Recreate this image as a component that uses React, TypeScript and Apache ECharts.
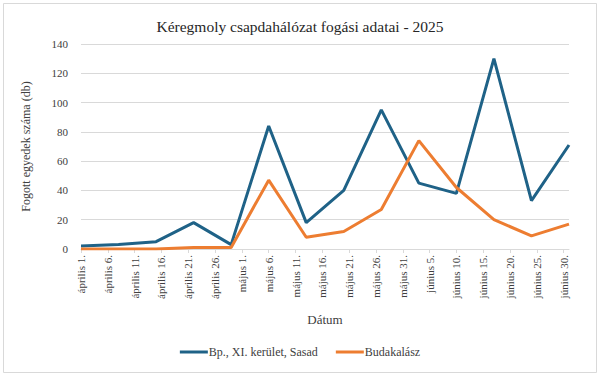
import React, { useEffect, useRef } from "react";
import * as echarts from "echarts";

const dates = [
  "2025-04-01", "2025-04-08", "2025-04-15", "2025-04-22", "2025-04-29",
  "2025-05-06", "2025-05-13", "2025-05-20", "2025-05-27", "2025-06-03",
  "2025-06-10", "2025-06-17", "2025-06-24", "2025-07-01",
];
const sasad = [2, 3, 5, 18, 3, 84, 18, 40, 95, 45, 38, 130, 33, 71];
const budakalasz = [0, 0, 0, 1, 1, 47, 8, 12, 27, 74, 42, 20, 9, 17];
const seriesNames = ["Bp., XI. kerület, Sasad", "Budakalász"];
const monthNames = ["január", "február", "március", "április", "május", "június", "július", "augusztus", "szeptember", "október", "november", "december"];
const yTicks = [0, 20, 40, 60, 80, 100, 120, 140];

const START = Date.UTC(2025, 3, 1);
const DAY = 86400000;
const toDay = (s: string) => {
  const [y, m, d] = s.split("-").map(Number);
  return Math.round((Date.UTC(y, m - 1, d) - START) / DAY);
};
const dayLabel = (v: number) => {
  const dt = new Date(START + v * DAY);
  return `${monthNames[dt.getUTCMonth()]} ${dt.getUTCDate()}.`;
};
const lastDay = toDay(dates[dates.length - 1]);
const tickDays: number[] = [];
for (let d = 0; d < lastDay; d += 5) tickDays.push(d);

const FONT = "Liberation Serif";

export default function App() {
  const ref = useRef<HTMLDivElement>(null);
  useEffect(() => {
    const chart = echarts.init(ref.current!, null, { renderer: "svg" });
    chart.setOption({
      animation: false,
      backgroundColor: "#ffffff",
      textStyle: { fontFamily: FONT },
      title: {
        text: "Kéregmoly csapdahálózat fogási adatai - 2025",
        left: "center",
        top: 13,
        textStyle: { fontFamily: FONT, fontSize: 15.5, fontWeight: "normal", color: "#262626" },
      },
      graphic: [
        {
          type: "rect",
          shape: { x: 3.5, y: 3.5, width: 593, height: 369 },
          style: { fill: "none", stroke: "#d9d9d9", lineWidth: 1 },
          silent: true,
        },
      ],
      legend: {
        bottom: 12,
        left: "center",
        itemWidth: 28,
        itemHeight: 3,
        itemGap: 18,
        icon: "rect",
        textStyle: { fontFamily: FONT, fontSize: 12, color: "#404040", padding: [0, 0, 0, -4] },
        data: seriesNames,
      },
      grid: { left: 81, right: 31, top: 44, bottom: 126, containLabel: false },
      xAxis: {
        type: "value",
        min: 0,
        max: lastDay,
        interval: 5,
        name: "Dátum",
        nameLocation: "middle",
        nameGap: 64,
        nameTextStyle: { fontFamily: FONT, fontSize: 13, color: "#404040" },
        axisLine: { show: true, lineStyle: { color: "#d9d9d9" } },
        axisTick: { show: true, length: 4, lineStyle: { color: "#d9d9d9" }, customValues: tickDays },
        axisLabel: {
          rotate: 90,
          customValues: tickDays,
          formatter: (v: number) => dayLabel(v),
          fontFamily: FONT,
          fontSize: 11,
          color: "#404040",
          margin: 6,
        },
        splitLine: { show: false },
      },
      yAxis: {
        type: "value",
        min: 0,
        max: 140,
        interval: 20,
        name: "Fogott egyedek száma (db)",
        nameLocation: "middle",
        nameGap: 49,
        nameTextStyle: { fontFamily: FONT, fontSize: 12, color: "#404040" },
        axisLine: { show: false },
        axisTick: { show: false },
        axisLabel: { fontFamily: FONT, fontSize: 11, color: "#404040", margin: 13, customValues: yTicks },
        splitLine: { lineStyle: { color: "#d9d9d9" } },
      },
      series: [
        {
          name: seriesNames[0],
          type: "line",
          data: dates.map((d, i) => [toDay(d), sasad[i]]),
          showSymbol: false,
          symbol: "none",
          lineStyle: { width: 3, color: "#1F6287" },
          itemStyle: { color: "#1F6287" },
        },
        {
          name: seriesNames[1],
          type: "line",
          data: dates.map((d, i) => [toDay(d), budakalasz[i]]),
          showSymbol: false,
          symbol: "none",
          lineStyle: { width: 3, color: "#ED7D31" },
          itemStyle: { color: "#ED7D31" },
        },
      ],
    });
    return () => chart.dispose();
  }, []);
  return (
    <div
      ref={ref}
      style={{ position: "fixed", left: 0, top: 0, width: 600, height: 375 }}
    />
  );
}
